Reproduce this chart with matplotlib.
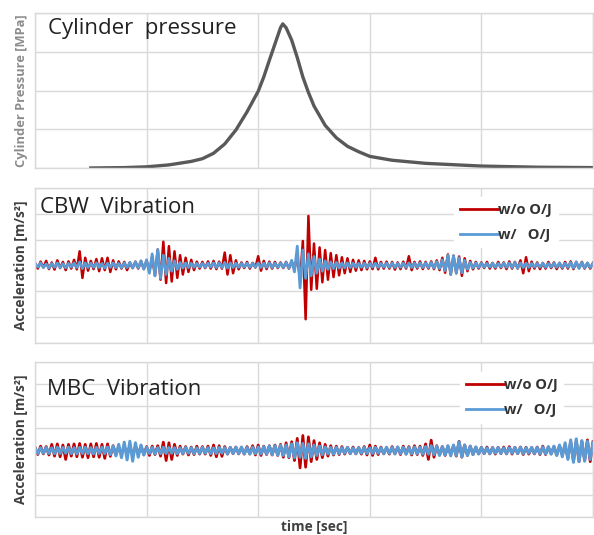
import numpy as np
import matplotlib.pyplot as plt

# cylinder pressure (arbitrary units on a 0..5 time axis)
t_pressure = [0.5, 0.8, 1.0, 1.2, 1.4, 1.5, 1.6, 1.7, 1.8, 1.9, 2.0, 2.05, 2.1,
              2.15, 2.2, 2.22, 2.25, 2.3, 2.35, 2.4, 2.45, 2.5, 2.6, 2.7, 2.8,
              2.9, 3.0, 3.2, 3.5, 4.0, 4.5, 5.0]
pressure = [0.0, 0.01, 0.03, 0.08, 0.17, 0.24, 0.38, 0.62, 0.98, 1.45, 1.98,
            2.35, 2.78, 3.2, 3.62, 3.72, 3.62, 3.3, 2.85, 2.35, 1.95, 1.6, 1.1,
            0.78, 0.56, 0.42, 0.3, 0.2, 0.12, 0.05, 0.02, 0.01]

# vibration samples, 201 points from 0 to 5
t_vib = np.linspace(0, 5, 201)

cbw_wo = [
    0.10, -0.12, 0.15, -0.08, 0.18, -0.14, 0.12, -0.16, 0.20, -0.10, 0.14, -0.18, 0.16, -0.12, 0.22, -0.15, 0.55, -0.48, 0.30, -0.20,
    0.18, -0.14, 0.25, -0.22, 0.28, -0.18, 0.30, -0.25, 0.20, -0.15, 0.16, -0.12, 0.14, -0.18, 0.12, -0.10, 0.15, -0.12, 0.18, -0.14,
    0.20, -0.25, 0.35, -0.40, 0.62, -0.55, 0.92, -0.68, 0.75, -0.62, 0.55, -0.48, 0.40, -0.35, 0.30, -0.25, 0.22, -0.18, 0.15, -0.12,
    0.14, -0.10, 0.16, -0.12, 0.18, -0.14, 0.15, -0.12, 0.50, -0.35, 0.40, -0.30, 0.20, -0.15, 0.12, -0.10, 0.14, -0.12, 0.10, -0.08,
    0.36, -0.20, 0.18, -0.14, 0.15, -0.12, 0.14, -0.10, 0.12, -0.10, 0.14, -0.12, 0.16, -0.14, 0.40, -0.60, 0.95, -2.08, 1.92, -0.94,
    0.85, -0.90, 0.70, -0.65, 0.60, -0.55, 0.48, -0.45, 0.40, -0.38, 0.32, -0.30, 0.28, -0.25, 0.22, -0.20, 0.20, -0.18, 0.18, -0.15,
    0.16, -0.14, 0.30, -0.15, 0.14, -0.12, 0.15, -0.12, 0.14, -0.16, 0.12, -0.14, 0.15, -0.12, 0.36, -0.18, 0.14, -0.12, 0.16, -0.14,
    0.14, -0.12, 0.16, -0.14, 0.20, -0.18, 0.30, -0.28, 0.43, -0.35, 0.38, -0.30, 0.35, -0.40, 0.28, -0.22, 0.18, -0.15, 0.14, -0.12,
    0.12, -0.10, 0.14, -0.12, 0.10, -0.12, 0.14, -0.10, 0.12, -0.14, 0.16, -0.12, 0.14, -0.12, 0.20, -0.30, 0.32, -0.22, 0.15, -0.12,
    0.12, -0.14, 0.10, -0.12, 0.14, -0.10, 0.12, -0.14, 0.10, -0.12, 0.14, -0.12, 0.16, -0.14, 0.12, -0.10, 0.14, -0.12, 0.10, -0.12,
    0.10,
]
cbw_w = [
    0.08, -0.06, 0.10, -0.08, 0.06, -0.10, 0.08, -0.07, 0.10, -0.08, 0.07, -0.09, 0.08, -0.06, 0.10, -0.08, 0.14, -0.12, 0.10, -0.08,
    0.09, -0.07, 0.10, -0.08, 0.08, -0.10, 0.09, -0.07, 0.10, -0.08, 0.08, -0.09, 0.10, -0.08, 0.12, -0.10, 0.14, -0.10, 0.18, -0.14,
    0.22, -0.30, 0.45, -0.40, 0.62, -0.50, 0.40, -0.35, 0.28, -0.22, 0.18, -0.15, 0.12, -0.10, 0.10, -0.08, 0.09, -0.07, 0.08, -0.06,
    0.08, -0.07, 0.09, -0.06, 0.10, -0.08, 0.10, -0.08, 0.12, -0.10, 0.10, -0.08, 0.09, -0.07, 0.08, -0.06, 0.09, -0.07, 0.08, -0.06,
    0.10, -0.08, 0.09, -0.07, 0.10, -0.08, 0.09, -0.07, 0.10, -0.08, 0.12, -0.10, 0.20, -0.25, 0.75, -0.87, 0.60, -0.50, 0.45, -0.40,
    0.35, -0.30, 0.25, -0.22, 0.18, -0.15, 0.14, -0.12, 0.12, -0.10, 0.10, -0.09, 0.10, -0.08, 0.09, -0.07, 0.08, -0.07, 0.09, -0.08,
    0.08, -0.06, 0.09, -0.07, 0.08, -0.06, 0.09, -0.07, 0.10, -0.08, 0.08, -0.07, 0.09, -0.07, 0.10, -0.08, 0.09, -0.07, 0.10, -0.08,
    0.10, -0.08, 0.12, -0.10, 0.15, -0.12, 0.22, -0.20, 0.40, -0.35, 0.38, -0.30, 0.30, -0.28, 0.20, -0.15, 0.12, -0.10, 0.10, -0.08,
    0.09, -0.07, 0.08, -0.06, 0.09, -0.07, 0.08, -0.06, 0.09, -0.07, 0.10, -0.08, 0.12, -0.10, 0.10, -0.08, 0.09, -0.07, 0.08, -0.06,
    0.08, -0.06, 0.09, -0.07, 0.08, -0.06, 0.09, -0.07, 0.10, -0.08, 0.09, -0.07, 0.12, -0.10, 0.15, -0.12, 0.12, -0.10, 0.10, -0.08,
    0.08,
]
mbc_wo = [
    0.15, -0.18, 0.20, -0.15, 0.18, -0.20, 0.28, -0.25, 0.30, -0.28, 0.25, -0.40, 0.28, -0.25, 0.30, -0.28, 0.32, -0.30, 0.28, -0.32,
    0.30, -0.28, 0.32, -0.30, 0.28, -0.35, 0.30, -0.26, 0.22, -0.20, 0.18, -0.16, 0.20, -0.18, 0.22, -0.20, 0.18, -0.16, 0.20, -0.18,
    0.18, -0.22, 0.20, -0.18, 0.22, -0.25, 0.38, -0.45, 0.35, -0.40, 0.28, -0.22, 0.20, -0.16, 0.18, -0.20, 0.16, -0.18, 0.20, -0.16,
    0.18, -0.16, 0.20, -0.22, 0.25, -0.28, 0.22, -0.26, 0.18, -0.16, 0.15, -0.14, 0.16, -0.15, 0.14, -0.16, 0.18, -0.15, 0.22, -0.20,
    0.25, -0.22, 0.20, -0.18, 0.22, -0.20, 0.25, -0.22, 0.28, -0.30, 0.35, -0.32, 0.40, -0.45, 0.55, -0.78, 0.68, -0.75, 0.62, -0.50,
    0.45, -0.40, 0.35, -0.32, 0.28, -0.25, 0.22, -0.20, 0.20, -0.18, 0.18, -0.16, 0.15, -0.14, 0.16, -0.15, 0.14, -0.16, 0.18, -0.20,
    0.25, -0.22, 0.20, -0.18, 0.16, -0.15, 0.14, -0.16, 0.18, -0.15, 0.16, -0.18, 0.20, -0.16, 0.18, -0.20, 0.22, -0.18, 0.20, -0.22,
    0.30, -0.40, 0.47, -0.30, 0.22, -0.20, 0.18, -0.22, 0.20, -0.18, 0.22, -0.25, 0.42, -0.30, 0.25, -0.22, 0.20, -0.18, 0.16, -0.15,
    0.15, -0.14, 0.16, -0.15, 0.14, -0.16, 0.15, -0.14, 0.16, -0.15, 0.18, -0.16, 0.15, -0.14, 0.16, -0.18, 0.15, -0.16, 0.14, -0.15,
    0.16, -0.18, 0.20, -0.18, 0.16, -0.15, 0.18, -0.20, 0.22, -0.20, 0.25, -0.35, 0.40, -0.48, 0.45, -0.50, 0.42, -0.45, 0.48, -0.50,
    0.40,
]
mbc_w = [
    0.12, -0.14, 0.13, -0.12, 0.14, -0.13, 0.12, -0.14, 0.15, -0.13, 0.14, -0.12, 0.15, -0.14, 0.13, -0.15, 0.14, -0.13, 0.15, -0.14,
    0.13, -0.15, 0.14, -0.13, 0.15, -0.14, 0.16, -0.18, 0.20, -0.24, 0.28, -0.32, 0.38, -0.42, 0.42, -0.48, 0.35, -0.30, 0.25, -0.20,
    0.15, -0.13, 0.14, -0.15, 0.13, -0.14, 0.15, -0.13, 0.14, -0.12, 0.13, -0.14, 0.12, -0.13, 0.14, -0.12, 0.13, -0.14, 0.12, -0.13,
    0.14, -0.12, 0.13, -0.14, 0.12, -0.13, 0.14, -0.12, 0.13, -0.15, 0.14, -0.13, 0.15, -0.14, 0.16, -0.15, 0.14, -0.16, 0.15, -0.14,
    0.16, -0.15, 0.18, -0.16, 0.20, -0.18, 0.22, -0.20, 0.24, -0.22, 0.25, -0.28, 0.30, -0.32, 0.35, -0.30, 0.32, -0.35, 0.30, -0.28,
    0.25, -0.22, 0.20, -0.18, 0.16, -0.15, 0.14, -0.16, 0.15, -0.14, 0.13, -0.12, 0.14, -0.13, 0.12, -0.14, 0.13, -0.12, 0.14, -0.13,
    0.12, -0.13, 0.14, -0.12, 0.13, -0.14, 0.15, -0.13, 0.14, -0.15, 0.16, -0.14, 0.15, -0.16, 0.14, -0.15, 0.16, -0.14, 0.15, -0.16,
    0.18, -0.16, 0.22, -0.18, 0.20, -0.22, 0.18, -0.20, 0.22, -0.24, 0.25, -0.22, 0.40, -0.28, 0.25, -0.22, 0.20, -0.18, 0.16, -0.15,
    0.14, -0.13, 0.12, -0.14, 0.13, -0.12, 0.14, -0.13, 0.12, -0.14, 0.13, -0.12, 0.14, -0.13, 0.15, -0.14, 0.13, -0.12, 0.14, -0.13,
    0.14, -0.15, 0.16, -0.15, 0.18, -0.16, 0.20, -0.22, 0.25, -0.28, 0.35, -0.40, 0.48, -0.53, 0.53, -0.50, 0.45, -0.48, 0.42, -0.40,
    0.35,
]

red = "#c00000"
blue = "#5b9bd5"
grid_color = "#d9d9d9"

plt.rcParams["font.family"] = ["Open Sans", "DejaVu Sans"]

fig = plt.figure(figsize=(5.94, 5.35), dpi=100)

W, H = 594, 535
left, right = 35, 593


def make_axes(top, bottom):
    return fig.add_axes([left / W, 1 - bottom / H, (right - left) / W, (bottom - top) / H])


ax1 = make_axes(13, 168)
ax2 = make_axes(188, 343)
ax3 = make_axes(362, 517)

ax1.plot(t_pressure, pressure, color="#595959", linewidth=2.4)
ax1.set_ylim(0, 4)
ax1.set_yticks([0, 1, 2, 3, 4])

ax2.plot(t_vib, cbw_wo, color=red, linewidth=1.8, label="w/o O/J")
ax2.plot(t_vib, cbw_w, color=blue, linewidth=2.0, label="w/   O/J")
ax2.set_ylim(-3, 3)
ax2.set_yticks(range(-3, 4))

ax3.plot(t_vib, mbc_wo, color=red, linewidth=2.0, label="w/o O/J")
ax3.plot(t_vib, mbc_w, color=blue, linewidth=2.2, label="w/   O/J")
ax3.set_ylim(-3, 4)
ax3.set_yticks(range(-3, 5))

for ax in (ax1, ax2, ax3):
    ax.set_xlim(0, 5)
    ax.set_xticks([0, 1, 2, 3, 4, 5])
    ax.grid(True, color=grid_color, linewidth=1)
    ax.set_axisbelow(True)
    ax.tick_params(length=0, labelbottom=False, labelleft=False)
    for s in ax.spines.values():
        s.set_color(grid_color)
        s.set_linewidth(1)

ax1.text(0.023, 0.90, "Cylinder  pressure", transform=ax1.transAxes,
         fontsize=16, color="#222222", va="center", ha="left")
ax2.text(0.009, 0.875, "CBW  Vibration", transform=ax2.transAxes,
         fontsize=16, color="#222222", va="center", ha="left")
ax3.text(0.021, 0.82, "MBC  Vibration", transform=ax3.transAxes,
         fontsize=16, color="#222222", va="center", ha="left")

ax1.set_ylabel("Cylinder Pressure [MPa]", fontsize=9.3, color="#8c8c8c",
               fontweight="bold", labelpad=5)
ax2.set_ylabel("Acceleration [m/s²]", fontsize=9.8, color="#404040",
               fontweight="bold", labelpad=5)
ax3.set_ylabel("Acceleration [m/s²]", fontsize=9.8, color="#404040",
               fontweight="bold", labelpad=5)
ax3.set_xlabel("time [sec]", fontsize=9.8, color="#404040", fontweight="bold",
               labelpad=2)

for ax, anchor in ((ax2, (0.95, 0.99)), (ax3, (0.96, 0.98))):
    leg = ax.legend(loc="upper right", bbox_to_anchor=anchor, frameon=True,
                    fancybox=False, framealpha=1, edgecolor="white",
                    handlelength=2.6, handletextpad=0.0, labelspacing=0.75,
                    prop={"size": 10.5, "weight": "bold"})
    for txt in leg.get_texts():
        txt.set_color("#333333")
    for line in leg.get_lines():
        line.set_linewidth(2)

fig.savefig("out.png", dpi=100)
